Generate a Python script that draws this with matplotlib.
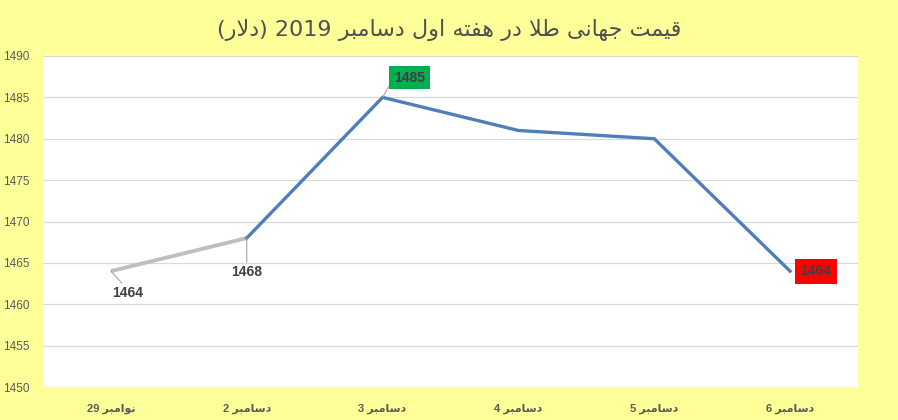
import matplotlib.pyplot as plt

days = ["29", "2", "3", "4", "5", "6"]
months = ["نوامبر", "دسامبر", "دسامبر", "دسامبر", "دسامبر", "دسامبر"]
prices = [1464, 1468, 1485, 1481, 1480, 1464]
title_words = ["قیمت", "جهانی", "طلا", "در", "هفته", "اول", "دسامبر", "2019", "(دلار)"]

# matplotlib has no arabic shaping, so do a small one by hand
# letter -> (isolated, final, initial, medial); two-form letters only join to the right
FORMS = {
    "ا": (0xFE8D, 0xFE8E), "د": (0xFEA9, 0xFEAA), "ر": (0xFEAD, 0xFEAE), "و": (0xFEED, 0xFEEE),
    "ب": (0xFE8F, 0xFE90, 0xFE91, 0xFE92), "ت": (0xFE95, 0xFE96, 0xFE97, 0xFE98),
    "ج": (0xFE9D, 0xFE9E, 0xFE9F, 0xFEA0), "س": (0xFEB1, 0xFEB2, 0xFEB3, 0xFEB4),
    "ط": (0xFEC1, 0xFEC2, 0xFEC3, 0xFEC4), "ف": (0xFED1, 0xFED2, 0xFED3, 0xFED4),
    "ق": (0xFED5, 0xFED6, 0xFED7, 0xFED8), "ل": (0xFEDD, 0xFEDE, 0xFEDF, 0xFEE0),
    "م": (0xFEE1, 0xFEE2, 0xFEE3, 0xFEE4), "ن": (0xFEE5, 0xFEE6, 0xFEE7, 0xFEE8),
    "ه": (0xFEE9, 0xFEEA, 0xFEEB, 0xFEEC), "ی": (0xFEEF, 0xFEF0, 0xFEF3, 0xFEF4),
}


def shape(word):
    letters = []
    i = 0
    while i < len(word):
        if word[i] == "ل" and i + 1 < len(word) and word[i + 1] == "ا":
            letters.append("لا")
            i += 2
        else:
            letters.append(word[i])
            i += 1
    out = []
    for k, ch in enumerate(letters):
        prev_joins = k > 0 and letters[k - 1] in FORMS and len(FORMS[letters[k - 1]]) == 4
        if ch == "لا":
            out.append(chr(0xFEFC if prev_joins else 0xFEFB))
            continue
        f = FORMS[ch]
        next_joins = len(f) == 4 and k + 1 < len(letters)
        if prev_joins and next_joins:
            out.append(chr(f[3]))
        elif prev_joins:
            out.append(chr(f[1]))
        elif next_joins:
            out.append(chr(f[2]))
        else:
            out.append(chr(f[0]))
    return "".join(out)[::-1]


def rtl(words):
    vis = []
    for w in words:
        if w.isdigit():
            vis.append(w)
        elif w.startswith("("):
            vis.append("(" + shape(w.strip("()")) + ")")
        else:
            vis.append(shape(w))
    return " ".join(reversed(vis))


xlabels = [d + " " + shape(m) for d, m in zip(days, months)]
x = list(range(len(prices)))

plt.rcParams["font.family"] = ["Liberation Sans", "DejaVu Sans"]
fig = plt.figure(figsize=(8.98, 4.2), dpi=100, facecolor="#FFFF99")
ax = fig.add_axes([43 / 898, 33 / 420, 815 / 898, 331 / 420])
ax.set_facecolor("white")

ax.plot(x[:2], prices[:2], color="#BFBFBF", lw=2.8, solid_capstyle="butt", zorder=3)
ax.plot(x[1:], prices[1:], color="#4F7FB8", lw=2.4, solid_joinstyle="miter", zorder=3)

ax.set_xlim(-0.5, 5.5)
ax.set_ylim(1450, 1490)
ax.set_yticks(range(1450, 1491, 5))
ax.set_xticks(x)
ax.set_xticklabels(xlabels, fontsize=8, fontweight="bold", color="#595959")
ax.tick_params(axis="y", labelsize=8.5, colors="#595959", length=0, pad=10)
ax.tick_params(axis="x", length=0, pad=12)
ax.grid(axis="y", color="#D9D9D9", lw=0.9)
ax.set_axisbelow(True)
for s in ax.spines.values():
    s.set_visible(False)

lead = dict(arrowstyle="-", color="#A6A6A6", lw=0.8, shrinkA=0, shrinkB=0)
lab_kw = dict(fontsize=10, fontweight="bold", color="#404040", zorder=5)

ax.annotate(str(prices[0]), xy=(x[0], prices[0]), xytext=(0.12, 1461.4),
            ha="center", va="center", arrowprops=dict(lead, relpos=(0.4, 1.0)), **lab_kw)
ax.annotate(str(prices[1]), xy=(x[1], prices[1]), xytext=(x[1], 1463.9),
            ha="center", va="center", arrowprops=dict(lead, relpos=(0.5, 1.0)), **lab_kw)
ax.annotate(str(prices[2]), xy=(x[2], prices[2]), xytext=(x[2] + 0.2, 1487.4),
            ha="center", va="center", arrowprops=dict(lead, relpos=(0.0, 0.5)),
            bbox=dict(boxstyle="square,pad=0.35", fc="#00B050", ec="none"), **lab_kw)
ax.text(x[5] + 0.19, prices[5], str(prices[5]), ha="center", va="center",
        bbox=dict(boxstyle="square,pad=0.4", fc="#FF0000", ec="none"), **lab_kw)

fig.text(0.5, 1 - 30 / 420, rtl(title_words), ha="center", va="center",
         fontsize=16, color="#505050", family="DejaVu Sans")

fig.savefig("out.png", dpi=100, facecolor=fig.get_facecolor())
